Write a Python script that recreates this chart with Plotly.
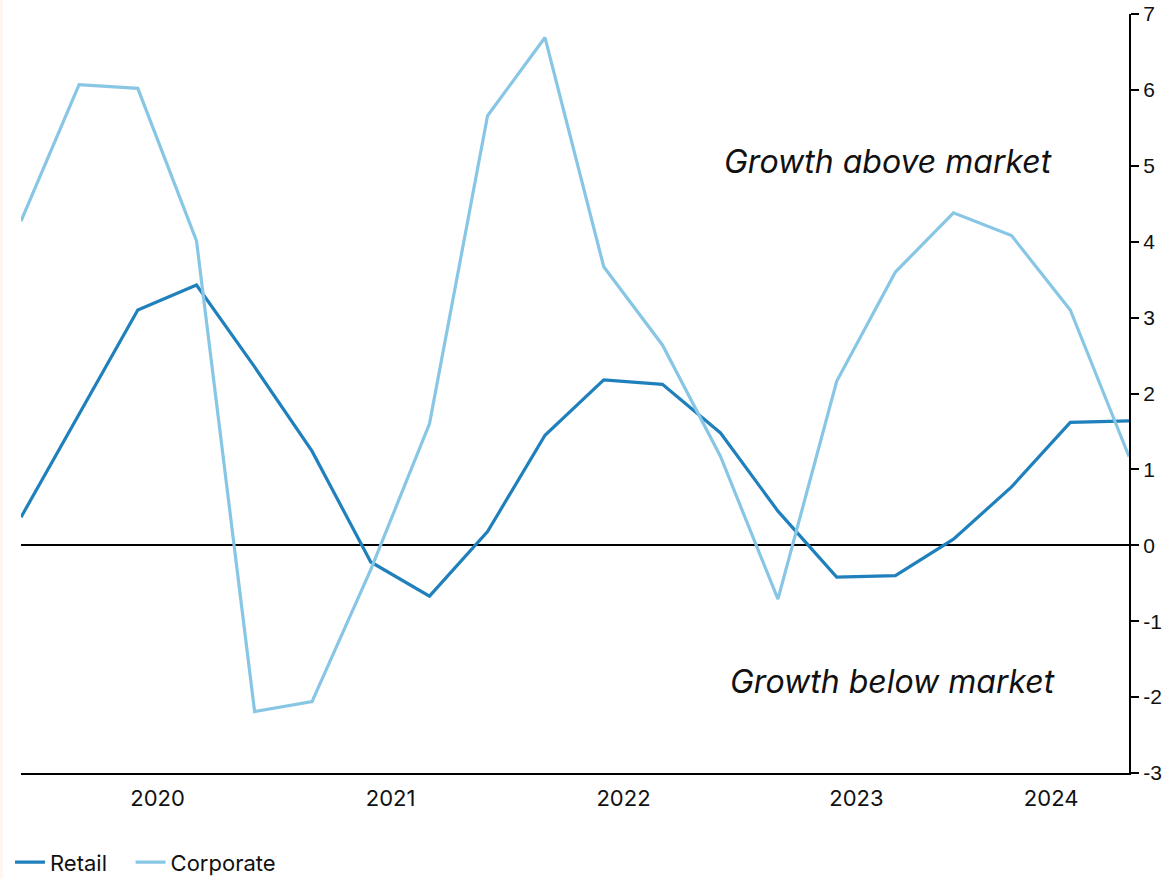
import datetime as dt
import plotly.graph_objects as go

# Quarterly observations (index points relative to market growth)
dates = ["2019-12-01", "2020-03-01", "2020-06-01", "2020-09-01", "2020-12-01",
         "2021-03-01", "2021-06-01", "2021-09-01", "2021-12-01",
         "2022-03-01", "2022-06-01", "2022-09-01", "2022-12-01",
         "2023-03-01", "2023-06-01", "2023-09-01", "2023-12-01",
         "2024-03-01", "2024-06-01", "2024-09-01"]
retail = [0.37, 1.73, 3.10, 3.43, 2.35, 1.24, -0.22, -0.67, 0.18, 1.45,
          2.18, 2.12, 1.48, 0.45, -0.42, -0.40, 0.08, 0.77, 1.62, 1.64]
corporate = [4.27, 6.07, 6.02, 4.01, -2.19, -2.06, -0.32, 1.60, 5.66, 6.69,
             3.67, 2.64, 1.17, -0.71, 2.16, 3.60, 4.38, 4.08, 3.10, 1.17]
years = [2020, 2021, 2022, 2023, 2024]
y_ticks = list(range(-3, 8))

RETAIL_COLOR = "#1f80bc"
CORP_COLOR = "#88c6e5"
FONT = "Inter"
NBSP = "\u00a0"

# Year labels sit in the middle of the visible part of each year
x_start = dt.date.fromisoformat(dates[0])
x_end = dt.date.fromisoformat(dates[-1])
year_pos = []
for y in years:
    a = max(dt.date(y, 1, 1), x_start)
    b = min(dt.date(y + 1, 1, 1), x_end)
    year_pos.append((a + (b - a) / 2).isoformat())

fig = go.Figure()
# non-breaking spaces widen the gap between the two legend entries
fig.add_trace(go.Scatter(x=dates, y=retail, mode="lines", name="Retail" + NBSP * 3,
                         line=dict(color=RETAIL_COLOR, width=3.2)))
fig.add_trace(go.Scatter(x=dates, y=corporate, mode="lines", name="Corporate",
                         line=dict(color=CORP_COLOR, width=3.2)))

fig.update_layout(
    width=1166, height=878,
    margin=dict(l=21, r=37, t=14, b=105, autoexpand=False),
    paper_bgcolor="white", plot_bgcolor="white",
    font=dict(family=FONT, size=22, color="#111111"),
    showlegend=True,
    legend=dict(orientation="h", x=-0.0099, y=-0.09, xanchor="left", yanchor="top",
                font=dict(family=FONT, size=22),
                traceorder="normal"),
    xaxis=dict(type="date", range=[dates[0], dates[-1]],
               tickvals=year_pos, ticktext=[str(y) for y in years],
               ticks="", showgrid=False, zeroline=False,
               showline=True, linecolor="black", linewidth=2,
               ticklabelstandoff=5,
               tickfont=dict(family=FONT, size=22)),
    yaxis=dict(side="right", range=[-3, 7], tickvals=y_ticks,
               ticktext=[str(v) for v in y_ticks],
               ticks="outside", ticklen=8, tickwidth=2, tickcolor="black",
               showline=True, linecolor="black", linewidth=2,
               showgrid=False, zeroline=True, zerolinecolor="black",
               zerolinewidth=2,
               tickfont=dict(family="Liberation Sans", size=21)),
    shapes=[dict(type="rect", xref="paper", yref="paper",
                 x0=-21 / 1108, x1=-18 / 1108, y0=-105 / 759, y1=1 + 14 / 759,
                 fillcolor="#fff6f0", line=dict(width=0), layer="below")],
    annotations=[
        dict(text="<i>Growth above market</i>", xref="paper", yref="y",
             x=0.7825, y=5.06, xanchor="center", yanchor="middle",
             showarrow=False,
             font=dict(family=FONT, size=32, color="#111111")),
        dict(text="<i>Growth below market</i>", xref="paper", yref="y",
             x=0.787, y=-1.79, xanchor="center", yanchor="middle",
             showarrow=False,
             font=dict(family=FONT, size=32, color="#111111")),
    ],
)

fig.write_html("out.html")
